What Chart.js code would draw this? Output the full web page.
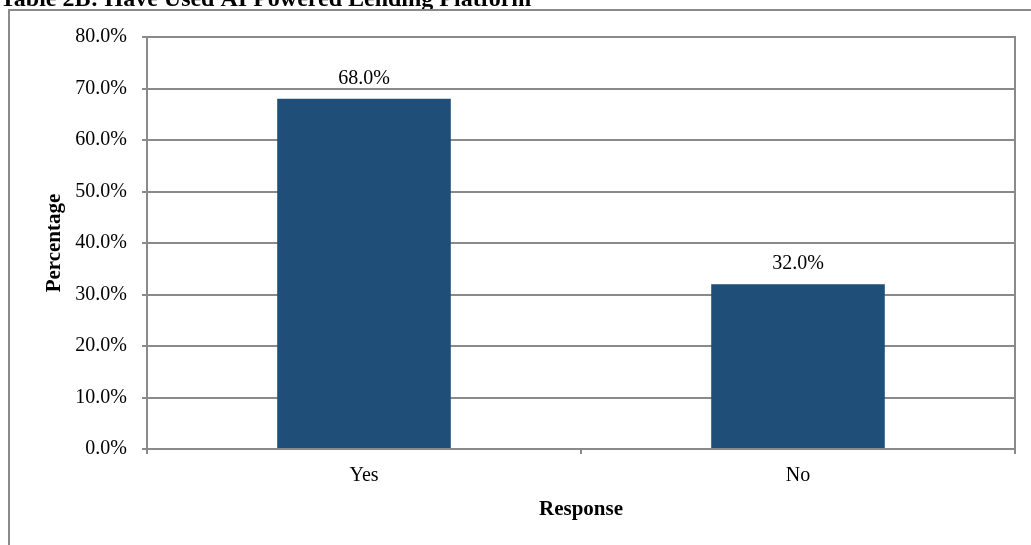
<!DOCTYPE html>
<html>
<head>
<meta charset="utf-8">
<script src="https://cdn.jsdelivr.net/npm/chart.js@4"></script>
<style>
  html, body { margin: 0; padding: 0; background: #fff; overflow: hidden; }
  #wrap { position: relative; width: 1031px; height: 545px; }
</style>
</head>
<body>
<div id="wrap"><canvas id="usage-chart"></canvas></div>
<script>
// Survey: have respondents used an AI powered lending platform
const categories = ["Yes", "No"];
const percentages = [68.0, 32.0];
const yTickValues = [0, 10, 20, 30, 40, 50, 60, 70, 80];

const titleText = "Table 2B: Have Used AI Powered Lending Platform";
const serif = "'Liberation Serif', 'Times New Roman', serif";
const gray = "#8a8a8a";
const barBlue = "#1f4e79";

// frame, heading, right border of the plot and the value labels
const decorations = {
  id: "decorations",
  beforeDraw(chart) {
    const ctx = chart.ctx;
    ctx.save();
    ctx.fillStyle = "#000";
    ctx.font = "bold 24px " + serif;
    ctx.textAlign = "left";
    ctx.textBaseline = "alphabetic";
    ctx.fillText(titleText, 0, 6);

    ctx.strokeStyle = gray;
    ctx.lineWidth = 2;
    ctx.strokeRect(9, 10, 1100, 600);
    ctx.restore();
  },
  afterDatasetsDraw(chart) {
    const ctx = chart.ctx;
    const area = chart.chartArea;
    ctx.save();
    ctx.strokeStyle = gray;
    ctx.lineWidth = 2;
    ctx.beginPath();
    ctx.moveTo(area.right, area.top - 1);
    ctx.lineTo(area.right, area.bottom);
    ctx.stroke();

    ctx.fillStyle = "#000";
    ctx.font = "20px " + serif;
    ctx.textAlign = "center";
    ctx.textBaseline = "alphabetic";
    chart.getDatasetMeta(0).data.forEach((bar, i) => {
      ctx.fillText(percentages[i].toFixed(1) + "%", bar.x, bar.y - 15);
    });
    ctx.restore();
  }
};

const ctx = document.getElementById("usage-chart");

new Chart(ctx, {
  type: "bar",
  data: {
    labels: categories,
    datasets: [
      {
        label: "Percentage",
        data: percentages,
        backgroundColor: barBlue,
        borderWidth: 0,
        barPercentage: 0.4,
        categoryPercentage: 1
      }
    ]
  },
  options: {
    responsive: true,
    maintainAspectRatio: false,
    animation: false,
    devicePixelRatio: 1,
    layout: {
      padding: { left: 0, top: 37, right: 16, bottom: 0 }
    },
    plugins: {
      legend: { display: false },
      tooltip: { enabled: false }
    },
    scales: {
      x: {
        offset: true,
        grid: {
          offset: true,
          drawOnChartArea: false,
          drawTicks: true,
          tickLength: 5,
          color: gray,
          lineWidth: 2
        },
        border: { color: gray, width: 2 },
        ticks: {
          color: "#000",
          font: { family: serif, size: 20 },
          padding: 10
        },
        title: {
          display: true,
          text: "Response",
          color: "#000",
          font: { family: serif, size: 21, weight: "bold" },
          padding: { top: 0, bottom: 23 }
        },
        afterFit(scale) {
          scale.height = 96;
        }
      },
      y: {
        min: 0,
        max: 80,
        grid: {
          drawTicks: true,
          tickLength: 5,
          color: gray,
          lineWidth: 2
        },
        border: { color: gray, width: 2 },
        ticks: {
          color: "#000",
          font: { family: serif, size: 20 },
          padding: 15,
          callback: v => v.toFixed(1) + "%"
        },
        afterBuildTicks(scale) {
          scale.ticks = yTickValues.map(v => ({ value: v }));
        },
        title: {
          display: true,
          text: "Percentage",
          color: "#000",
          font: { family: serif, size: 21, weight: "bold" },
          padding: { top: 42, bottom: 0 }
        },
        afterFit(scale) {
          scale.width = 147;
        }
      }
    }
  },
  plugins: [decorations]
});
</script>
</body>
</html>
